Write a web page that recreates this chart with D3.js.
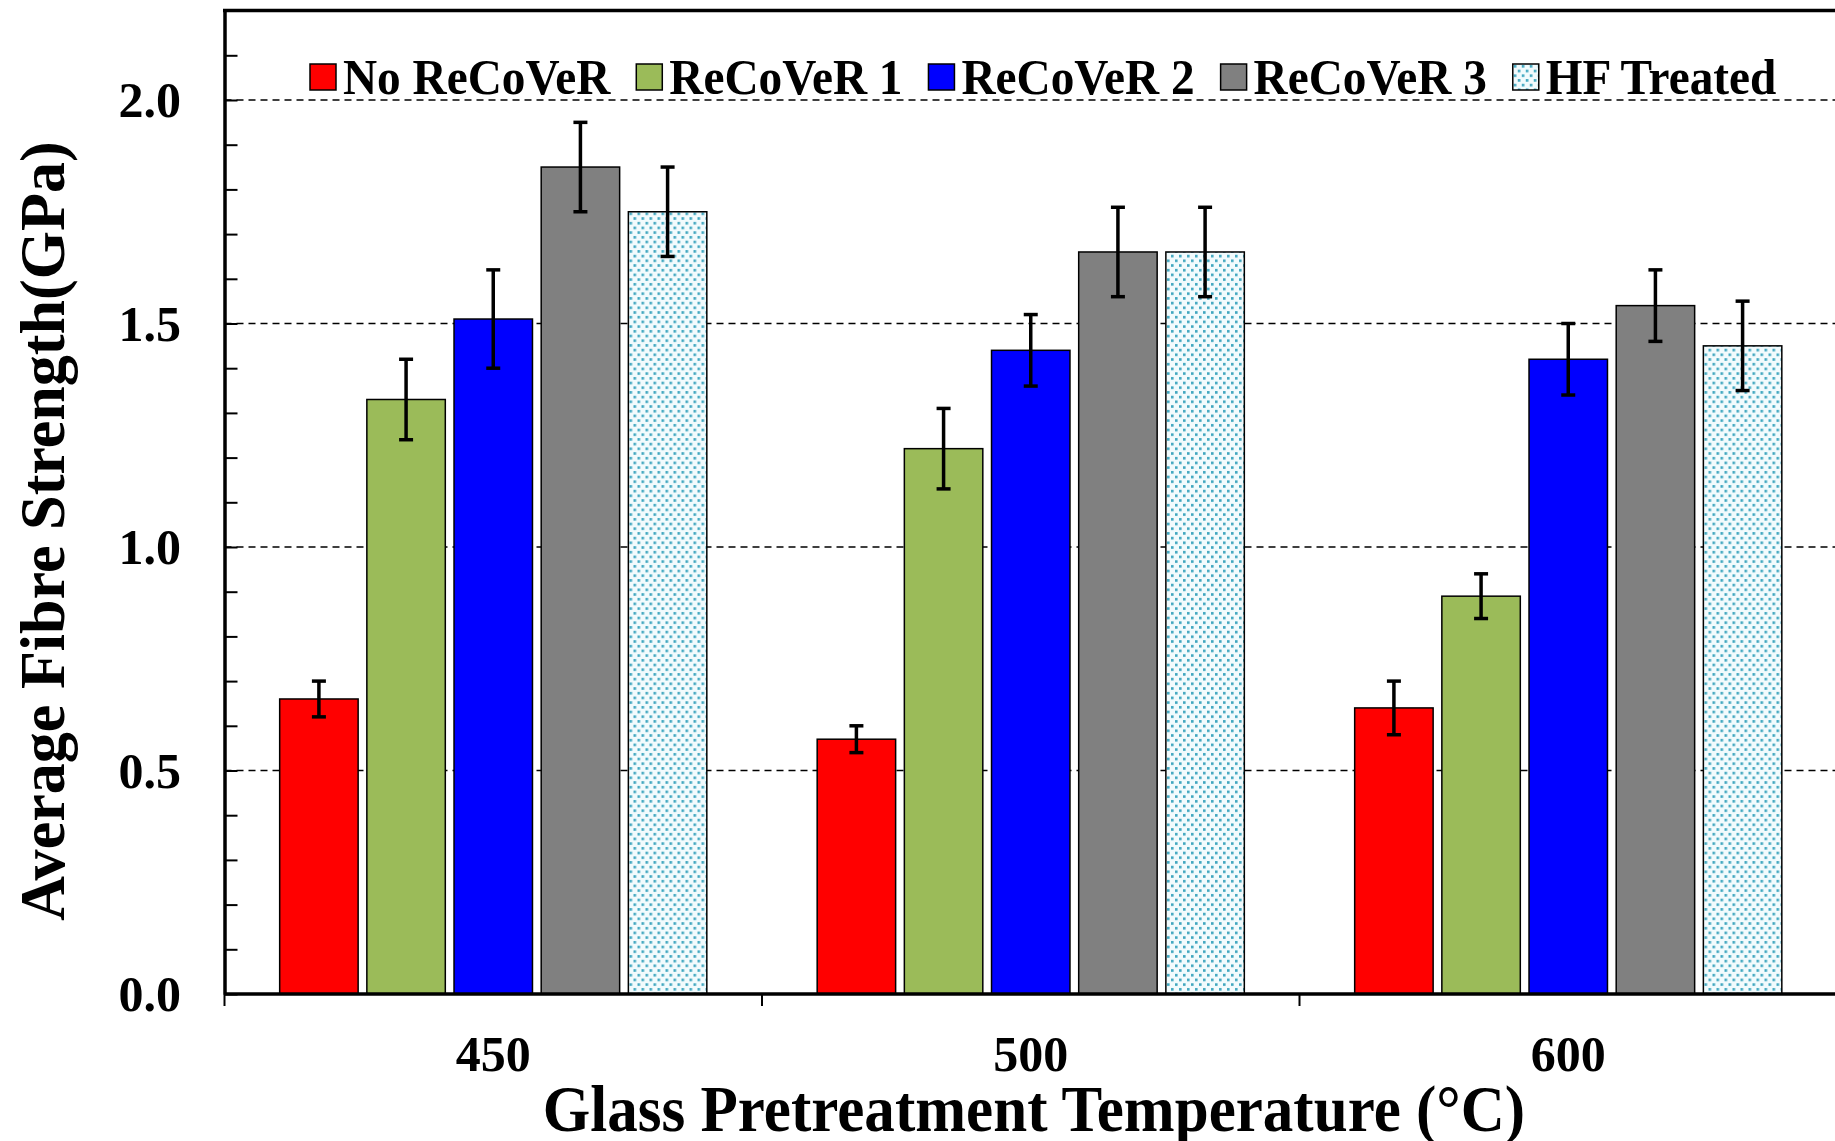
<!DOCTYPE html>
<html>
<head>
<meta charset="utf-8">
<script src="https://cdn.jsdelivr.net/npm/d3@7"></script>
<style>
  body { margin: 0; background: #fff; }
  text { font-family: "Liberation Serif", "Times New Roman", serif; font-weight: bold; fill: #000; }
</style>
</head>
<body>
<svg width="1835" height="1141"></svg>
<script>
// **** Data ****
var temperatures = ['450', '500', '600'];
var seriesNames = ['No ReCoVeR', 'ReCoVeR 1', 'ReCoVeR 2', 'ReCoVeR 3', 'HF Treated'];
var seriesColors = ['#ff0000', '#9bbb59', '#0000ff', '#808080', 'url(#dots)'];

// mean strength per series, one value per temperature
var noRecover = [0.66, 0.57, 0.64];
var recover1  = [1.33, 1.22, 0.89];
var recover2  = [1.51, 1.44, 1.42];
var recover3  = [1.85, 1.66, 1.54];
var hfTreated = [1.75, 1.66, 1.45];

// error (+/-)
var noRecoverErr = [0.04, 0.03, 0.06];
var recover1Err  = [0.09, 0.09, 0.05];
var recover2Err  = [0.11, 0.08, 0.08];
var recover3Err  = [0.10, 0.10, 0.08];
var hfTreatedErr = [0.10, 0.10, 0.10];

var yTicks = [0.0, 0.5, 1.0, 1.5, 2.0];

var allValues = [noRecover, recover1, recover2, recover3, hfTreated];
var allErrors = [noRecoverErr, recover1Err, recover2Err, recover3Err, hfTreatedErr];

// **** Scales ****
var svg = d3.select('svg');

var xScale = d3.scaleBand().domain(temperatures).range([224.5, 1837]).padding(0);
var barScale = d3.scaleBand().domain(seriesNames)
    .range([0, xScale.bandwidth()]).paddingInner(0.1).paddingOuter(0.633);
var yScale = d3.scaleLinear().domain([0, 2.2]).range([994, 10.6]);

// squeeze text horizontally like the condensed Times in the original
function squeeze(sel, k) {
    sel.each(function() {
        var w = this.getComputedTextLength();
        d3.select(this).attr('textLength', w * k).attr('lengthAdjust', 'spacingAndGlyphs')
            .attr('data-w', w * k);
    });
}

// dotted pattern for HF Treated
var defs = svg.append('defs');
var pat = defs.append('pattern').attr('id', 'dots')
    .attr('patternUnits', 'userSpaceOnUse').attr('width', 8).attr('height', 9.4);
pat.append('rect').attr('width', 8).attr('height', 9.4).attr('fill', '#f2fbfd');
pat.append('rect').attr('x', 1).attr('y', 1).attr('width', 2.6).attr('height', 2.6).attr('fill', '#3fa6bf');
pat.append('rect').attr('x', 5).attr('y', 5.7).attr('width', 2.6).attr('height', 2.6).attr('fill', '#3fa6bf');

// **** Grid lines ****
svg.append('g').selectAll('line')
    .data(yTicks.filter(function(d){ return d > 0; }))
    .enter().append('line')
    .attr('x1', 224.5).attr('x2', 1835)
    .attr('y1', function(d){ return yScale(d); })
    .attr('y2', function(d){ return yScale(d); })
    .attr('stroke', '#000').attr('stroke-width', 1.5)
    .attr('stroke-dasharray', '7,5');

// **** Bars ****
var groups = svg.append('g').selectAll('g')
    .data(temperatures).enter().append('g')
    .attr('transform', function(d){ return 'translate(' + xScale(d) + ',0)'; });

groups.each(function(t, ti) {
    var g = d3.select(this);
    seriesNames.forEach(function(s, si) {
        var v = allValues[si][ti];
        g.append('rect')
            .attr('x', barScale(s))
            .attr('y', yScale(v))
            .attr('width', barScale.bandwidth())
            .attr('height', yScale(0) - yScale(v))
            .attr('fill', seriesColors[si])
            .attr('stroke', '#000').attr('stroke-width', 1.5);
    });
    seriesNames.forEach(function(s, si) {
        var v = allValues[si][ti], e = allErrors[si][ti];
        var cx = barScale(s) + barScale.bandwidth() / 2;
        var eb = g.append('g').attr('stroke', '#000').attr('stroke-width', 3.5);
        eb.append('line').attr('x1', cx).attr('x2', cx)
            .attr('y1', yScale(v + e)).attr('y2', yScale(v - e));
        eb.append('line').attr('x1', cx - 7).attr('x2', cx + 7)
            .attr('y1', yScale(v + e)).attr('y2', yScale(v + e));
        eb.append('line').attr('x1', cx - 7).attr('x2', cx + 7)
            .attr('y1', yScale(v - e)).attr('y2', yScale(v - e));
    });
});

// **** Axes ****
var yAxis = svg.append('g').attr('transform', 'translate(224.5,0)')
    .call(d3.axisRight(yScale).tickValues(d3.range(0, 22).map(function(i){ return i / 10; }))
        .tickSize(13).tickSizeOuter(0).tickFormat(''));
yAxis.select('.domain').attr('stroke-width', 3.5);
yAxis.selectAll('.tick line').attr('stroke-width', 2);

svg.append('g').selectAll('text').data(yTicks).enter().append('text')
    .attr('x', 181).attr('y', function(d){ return yScale(d) + 17; })
    .attr('text-anchor', 'end').style('font-size', '50px')
    .text(function(d){ return d.toFixed(1); });

// top frame line
svg.append('line').attr('x1', 223).attr('x2', 1835)
    .attr('y1', yScale(2.2)).attr('y2', yScale(2.2))
    .attr('stroke', '#000').attr('stroke-width', 3.5);

var xAxis = svg.append('g').attr('transform', 'translate(0,' + yScale(0) + ')')
    .call(d3.axisBottom(xScale).tickSize(0).tickFormat(''));
xAxis.select('.domain').attr('stroke-width', 3.5).attr('d', 'M224.5,0H1835');
// category boundary ticks
svg.append('g').selectAll('line')
    .data(temperatures).enter().append('line')
    .attr('x1', function(d){ return xScale(d); }).attr('x2', function(d){ return xScale(d); })
    .attr('y1', yScale(0)).attr('y2', yScale(0) + 12)
    .attr('stroke', '#000').attr('stroke-width', 2);

svg.append('g').selectAll('text').data(temperatures).enter().append('text')
    .attr('x', function(d){ return xScale(d) + xScale.bandwidth() / 2; })
    .attr('y', 1071).attr('text-anchor', 'middle').style('font-size', '50px')
    .text(function(d){ return d; });

// **** Axis titles ****
svg.append('text')
    .text('Glass Pretreatment Temperature (°C)')
    .attr('x', 1034).attr('y', 1131).attr('text-anchor', 'middle')
    .style('font-size', '66px')
    .call(squeeze, 0.925);

svg.append('text')
    .text('Average Fibre Strength(GPa)')
    .attr('text-anchor', 'middle')
    .attr('transform', 'translate(64,531) rotate(-90)')
    .style('font-size', '64px')
    .call(squeeze, 0.97);

// **** Legend ****
var legend = svg.append('g').attr('transform', 'translate(310,64)');
var lx = 0;
seriesNames.forEach(function(s, si) {
    var item = legend.append('g').attr('transform', 'translate(' + lx + ',0)');
    item.append('rect').attr('width', 26).attr('height', 26)
        .attr('fill', seriesColors[si]).attr('stroke', '#000').attr('stroke-width', 1.5);
    var t = item.append('text').attr('x', 33).attr('y', 30)
        .style('font-size', '50px').text(s)
        .call(squeeze, 0.945);
    lx += 33 + (+t.attr('data-w')) + 26;
});
</script>
</body>
</html>
